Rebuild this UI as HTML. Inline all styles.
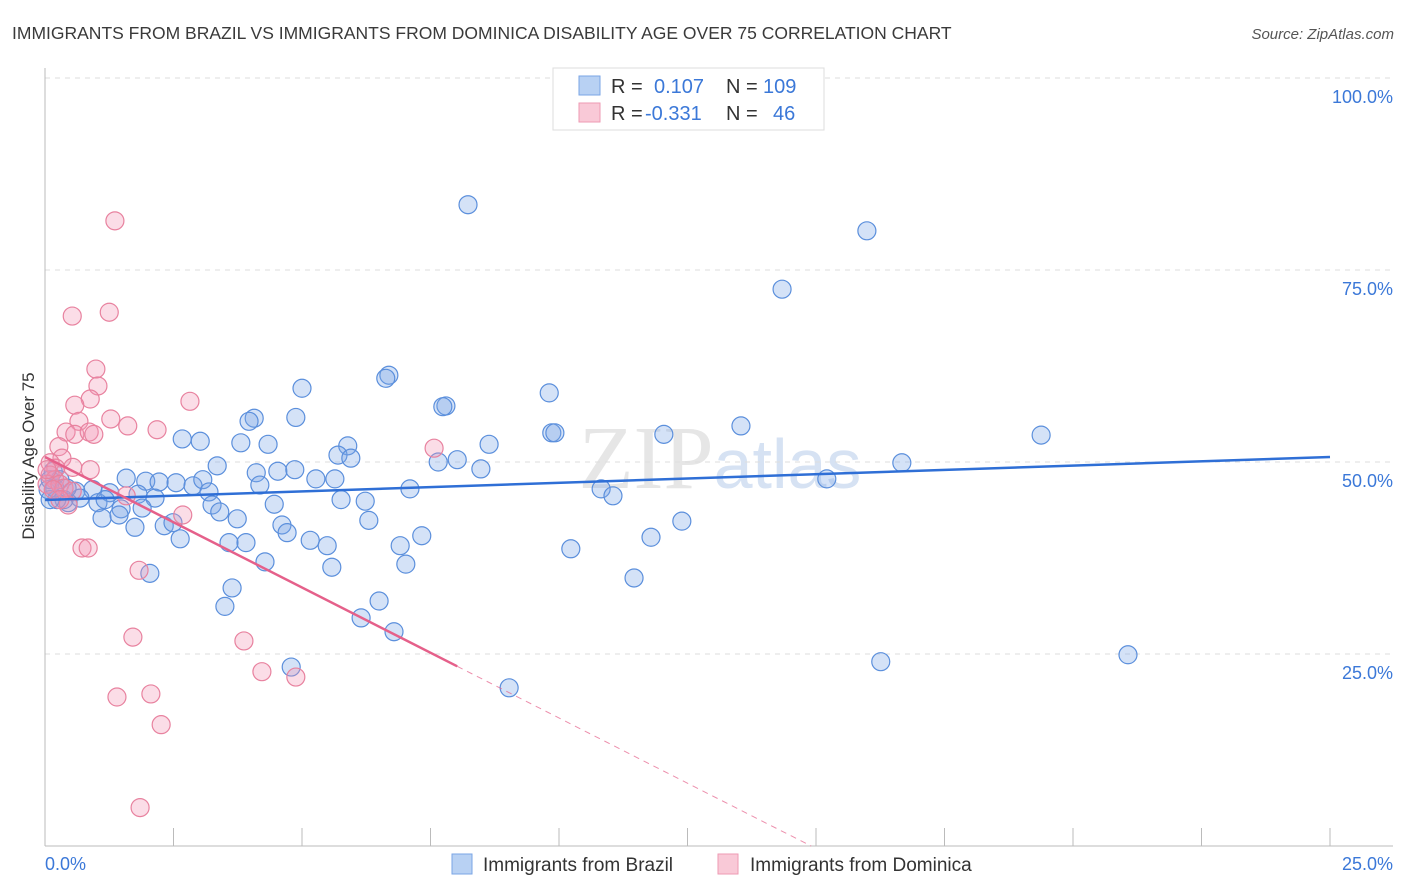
<!DOCTYPE html>
<html><head><meta charset="utf-8"><style>
body{margin:0;background:#fff;font-family:"Liberation Sans",sans-serif;}
#c{position:relative;width:1406px;height:892px;overflow:hidden;}
</style></head><body>
<div id="c">
<svg id="s" width="1406" height="892" xmlns="http://www.w3.org/2000/svg">
<text x="12" y="39" font-size="17.5" fill="#3a3a3a">IMMIGRANTS FROM BRAZIL VS IMMIGRANTS FROM DOMINICA DISABILITY AGE OVER 75 CORRELATION CHART</text>
<text x="1394" y="39" font-size="15" fill="#555" font-style="italic" text-anchor="end">Source: ZipAtlas.com</text>
<text x="720" y="488" font-size="90" fill="#e6e6e6" text-anchor="middle" font-family="Liberation Serif,serif">ZIP<tspan fill="#d6e2f3" font-family="Liberation Sans,sans-serif" font-size="70">atlas</tspan></text>
<text transform="translate(34,456) rotate(-90)" font-size="17" fill="#333" text-anchor="middle">Disability Age Over 75</text>
<g id="grid"></g><g id="pts"></g><g id="trend"></g>
<g>
<rect x="553" y="68" width="271" height="62" fill="#fff" stroke="#ddd"/>
<rect x="579" y="76" width="21" height="19" fill="#b8d1f3" stroke="#7aa5e6"/>
<rect x="579" y="103" width="21" height="19" fill="#f9c9d7" stroke="#ee9ab3"/>
<text x="611" y="93" font-size="20" fill="#333">R = </text><text x="654" y="93" font-size="20" fill="#3b78d8">0.107</text>
<text x="726" y="93" font-size="20" fill="#333">N = </text><text x="763" y="93" font-size="20" fill="#3b78d8">109</text>
<text x="611" y="120" font-size="20" fill="#333">R = </text><text x="645" y="120" font-size="20" fill="#3b78d8">-0.331</text>
<text x="726" y="120" font-size="20" fill="#333">N = </text><text x="773" y="120" font-size="20" fill="#3b78d8">46</text>
</g>
<g>
<rect x="452" y="854" width="20" height="20" fill="#b8d1f3" stroke="#7aa5e6"/>
<text x="483" y="871" font-size="19" fill="#333">Immigrants from Brazil</text>
<rect x="718" y="854" width="20" height="20" fill="#f9c9d7" stroke="#ee9ab3"/>
<text x="750" y="871" font-size="19" fill="#333">Immigrants from Dominica</text>
</g>
</svg>
</div>
<script>
const yTicks=[100,75,50,25];
const yTickLabels=["100.0%","75.0%","50.0%","25.0%"];
const xTickLabels=["0.0%","25.0%"];
const brazilX=[8.23,15.99,14.34,5.0,6.69,6.63,7.80,7.74,9.81,4.07,3.97,4.88,13.54,19.38,9.86,9.92,12.04,2.67,3.02,3.81,4.34,5.89,8.64,5.70,5.95,7.65,8.02,8.48,16.67,15.21,3.35,4.11,4.53,4.86,5.27,5.64,1.58,1.96,2.22,2.55,2.88,3.07,4.18,7.10,10.82,11.05,3.19,1.26,1.81,2.14,0.93,0.60,0.68,0.45,0.37,0.23,0.19,1.03,1.17,1.48,1.89,3.25,3.40,4.46,5.76,6.23,0.16,0.10,0.29,0.43,1.11,1.44,1.75,2.32,2.49,2.63,3.74,4.61,4.71,6.30,5.16,5.49,7.33,6.91,11.79,12.39,10.23,3.58,3.91,4.28,5.58,7.02,2.04,3.64,3.50,11.46,6.50,6.15,6.79,4.79,9.03,16.26,21.07,0.10,0.06];
const brazilY=[83.5,80.1,72.5,59.6,61.3,60.9,57.3,57.2,59.0,55.7,55.3,55.8,54.7,53.5,53.8,53.8,53.6,53.0,52.7,52.5,52.3,52.1,52.3,50.9,50.5,50.0,50.3,49.1,49.9,47.8,49.5,48.6,48.8,49.0,47.8,47.8,47.9,47.5,47.4,47.3,46.9,47.7,47.0,46.5,46.5,45.6,46.1,46.0,45.8,45.3,46.4,46.2,45.3,44.7,45.1,45.1,46.6,44.7,45.1,43.9,44.0,44.4,43.5,44.5,45.1,44.9,48.8,47.7,47.7,46.6,42.7,43.1,41.5,41.7,42.1,40.0,42.6,41.8,40.8,42.4,39.8,39.1,40.4,39.1,40.2,42.3,38.7,39.5,39.5,37.0,36.3,36.7,35.5,33.6,31.2,34.9,31.9,29.7,27.9,23.3,20.6,24.0,24.9,45.1,46.4];
const domX=[1.36,1.25,0.53,0.99,1.03,0.88,0.58,2.82,1.28,0.66,1.61,2.18,0.41,0.58,0.86,0.95,7.57,0.27,0.33,0.10,0.21,0.54,0.88,0.10,0.19,0.04,0.29,0.37,0.53,0.45,1.58,2.68,0.72,0.84,1.83,1.71,3.87,4.22,4.88,1.40,2.06,2.26,1.85,0.04,0.16,0.29];
const domY=[81.4,69.5,69.0,62.1,59.9,58.2,57.4,57.9,55.6,55.3,54.7,54.2,53.9,53.6,53.9,53.6,51.8,52.0,50.5,49.9,49.2,49.3,49.0,48.3,47.7,47.1,47.1,46.6,46.2,44.4,45.6,43.1,38.8,38.8,35.9,27.2,26.7,22.7,22.0,19.4,19.8,15.8,5.0,49.0,46.4,45.1];
const brazilTrend=[45.05,50.65];
const domTrend=[50.65,-34.3];
const domSolidEnd=8.02;

const NS="http://www.w3.org/2000/svg";
const X0=45,X1=1330,Y0=846,Y100=78;
const sx=v=>X0+v/25*(X1-X0);
const sy=v=>Y0-v/100*(Y0-Y100);
function mk(t,a,p){const e=document.createElementNS(NS,t);for(const k in a)e.setAttribute(k,a[k]);p.appendChild(e);return e;}
const grid=document.getElementById('grid');
yTicks.forEach((t,i)=>{
 const l=mk('line',{x1:X0,x2:1393,y1:sy(t),y2:sy(t),stroke:'#ddd','stroke-dasharray':'5,5'},grid);
 
 
 const tx=mk('text',{x:1393,y:sy(t)+25,'font-size':18,fill:'#3b78d8','text-anchor':'end'},grid);
 tx.textContent=yTickLabels[i];
 
 
});
const ax=mk('line',{x1:X0,x2:X0,y1:68,y2:Y0,stroke:'#bbb'},grid);


const bx=mk('line',{x1:X0,x2:1393,y1:Y0,y2:Y0,stroke:'#bbb'},grid);


for(let i=0;i<=10;i++){
 const t=mk('line',{x1:sx(i*2.5),x2:sx(i*2.5),y1:828,y2:Y0,stroke:'#bbb'},grid);
 
 
}
[[0,'start',45],[25,'end',1393]].forEach((d,i)=>{
 const t=mk('text',{x:d[2],y:870,'font-size':18,fill:'#3b78d8','text-anchor':d[1]},grid);
 t.textContent=xTickLabels[i];
 
 
});
const pts=document.getElementById('pts');
brazilX.forEach((x,i)=>{
 const c=mk('circle',{cx:sx(x),cy:sy(brazilY[i]),r:9,fill:'rgba(120,165,230,0.32)',stroke:'#5b8fdc','stroke-width':1.2},pts);
 
 
});
domX.forEach((x,i)=>{
 const c=mk('circle',{cx:sx(x),cy:sy(domY[i]),r:9,fill:'rgba(242,150,180,0.32)',stroke:'#e8829f','stroke-width':1.2},pts);
 
 
});
const tr=document.getElementById('trend');
const b=mk('line',{x1:sx(0),y1:sy(brazilTrend[0]),x2:sx(25),y2:sy(brazilTrend[1]),stroke:'#2f6fd6','stroke-width':2.5},tr);


const dy=x=>domTrend[0]+(domTrend[1]-domTrend[0])*x/25;
const d1=mk('line',{x1:sx(0),y1:sy(dy(0)),x2:sx(domSolidEnd),y2:sy(dy(domSolidEnd)),stroke:'#e5608a','stroke-width':2.5},tr);


const zx=domTrend[0]/(domTrend[0]-domTrend[1])*25;
const d2=mk('line',{x1:sx(domSolidEnd),y1:sy(dy(domSolidEnd)),x2:sx(zx),y2:sy(0),stroke:'#e5608a','stroke-width':1,'stroke-dasharray':'6,5',opacity:0.7},tr);


</script>
</body></html>
